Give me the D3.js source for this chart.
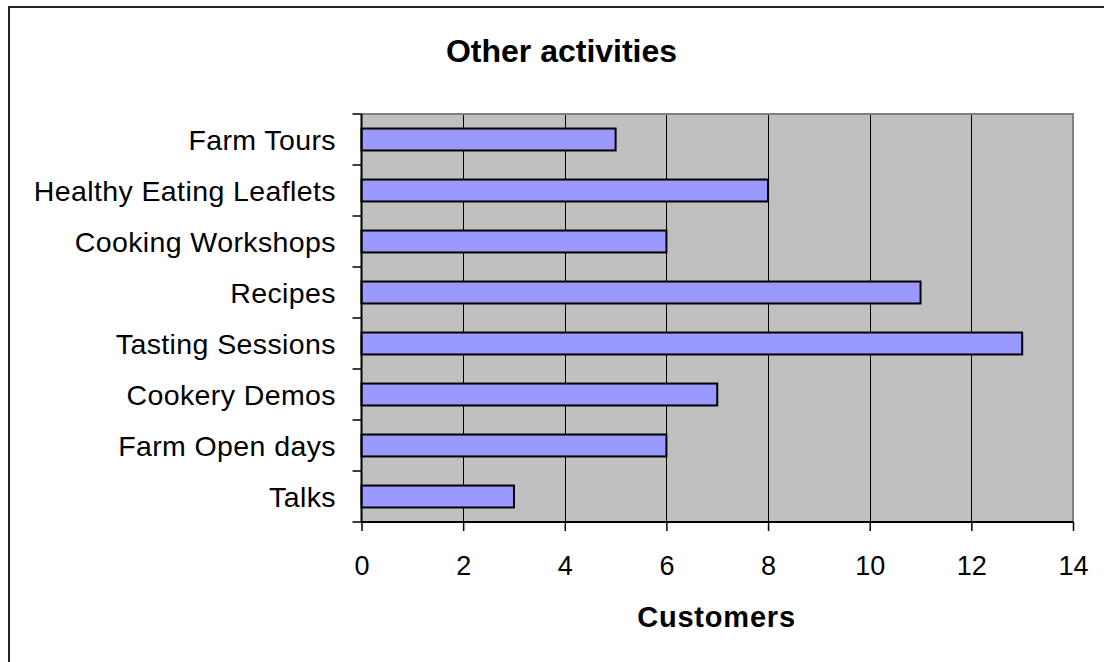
<!DOCTYPE html>
<html><head><meta charset="utf-8">
<script src="https://cdn.jsdelivr.net/npm/d3@7"></script>
<style>html,body{margin:0;padding:0;background:#fff;}svg{display:block;font-family:"Liberation Sans",Arial,sans-serif;}</style>
</head><body>
<svg id="c" width="1104" height="662"></svg>
<script>
const categories = ["Farm Tours","Healthy Eating Leaflets","Cooking Workshops","Recipes","Tasting Sessions","Cookery Demos","Farm Open days","Talks"];
const customers = [5,8,6,11,13,7,6,3];
const xTicks = [0,2,4,6,8,10,12,14];
const title = "Other activities";
const xTitle = "Customers";

const svg = d3.select("#c");
const L = 361.5, R = 1073, T = 114, B = 522;

// outer frame (top and left visible)
svg.append("path").attr("d", `M9,662 V7 H1104`).attr("fill","none").attr("stroke","#222").attr("stroke-width",2);

const x = d3.scaleLinear().domain([0,14]).range([L,R]);
const y = d3.scaleBand().domain(categories).range([T,B]).paddingInner(0.57).paddingOuter(0.285);

// plot background
svg.append("rect").attr("x",L).attr("y",T).attr("width",R-L).attr("height",B-T).attr("fill","#C0C0C0");

// gridlines
svg.append("g").selectAll("line").data(xTicks.filter(d=>d>0 && d<14)).join("line")
  .attr("x1",d=>Math.round(x(d))+0.5).attr("x2",d=>Math.round(x(d))+0.5)
  .attr("y1",T).attr("y2",B).attr("stroke","#000").attr("stroke-width",1);

// plot border top/right
svg.append("path").attr("d",`M${L},${T} H${R} V${B}`).attr("fill","none").attr("stroke","#808080").attr("stroke-width",2);

// bars
svg.append("g").selectAll("rect").data(categories).join("rect")
  .attr("x",x(0)).attr("y",(d)=>y(d)).attr("height",y.bandwidth())
  .attr("width",(d,i)=>x(customers[i])-x(0))
  .attr("fill","#9999FF").attr("stroke","#000").attr("stroke-width",2);

// y axis
const yAxisTicks = d3.range(categories.length+1).map(i=>T + i*y.step());
svg.append("line").attr("x1",L).attr("x2",L).attr("y1",T).attr("y2",B).attr("stroke","#000").attr("stroke-width",2);
svg.append("g").selectAll("line").data(yAxisTicks).join("line")
  .attr("x1",L-9).attr("x2",L).attr("y1",d=>d).attr("y2",d=>d).attr("stroke","#000").attr("stroke-width",1.5);
svg.append("g").selectAll("text").data(categories).join("text")
  .attr("x",336).attr("y",d=>y(d)+y.bandwidth()/2).attr("dy","0.38em")
  .attr("text-anchor","end").attr("font-size",28.5).attr("letter-spacing",0.4).attr("fill","#000")
  .text(d=>d);

// x axis
const xAxis = d3.axisBottom(x).tickValues(xTicks).tickSize(9).tickPadding(44).tickFormat(d3.format("d"));
const gx = svg.append("g").attr("transform",`translate(0,${B})`).call(xAxis);
gx.select(".domain").attr("stroke","#000").attr("stroke-width",2).attr("d",`M${L},0H${R}`);
gx.selectAll(".tick line").attr("stroke","#000").attr("stroke-width",1.5);
gx.selectAll(".tick text").attr("font-size",27).attr("font-family","Liberation Sans, Arial, sans-serif").attr("fill","#000").attr("dy","0");

// titles
svg.append("text").attr("x",561.5).attr("y",62).attr("text-anchor","middle")
  .attr("font-size",32).attr("font-weight","bold").text(title);
svg.append("text").attr("x",716.5).attr("y",627).attr("text-anchor","middle")
  .attr("font-size",29).attr("font-weight","bold").attr("letter-spacing",0.8).text(xTitle);
</script>
</body></html>
